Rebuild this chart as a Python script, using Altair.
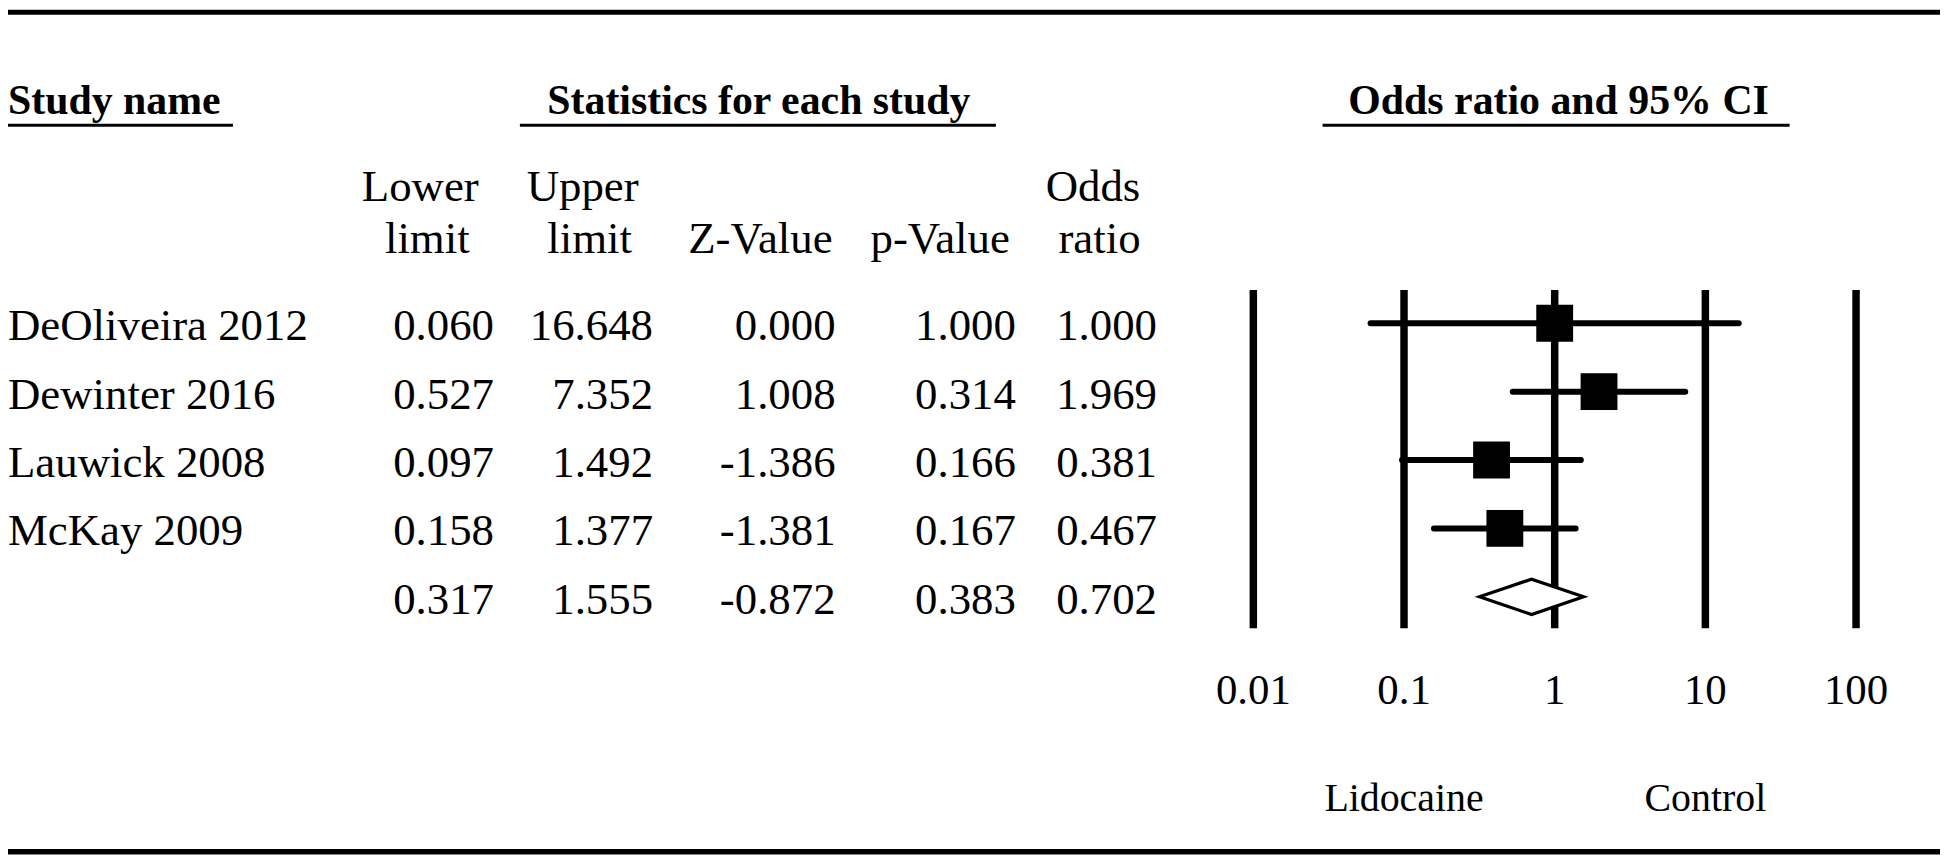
import altair as alt
import pandas as pd

FONT = "Liberation Serif"

# ---- data ----
studies = ["DeOliveira 2012", "Dewinter 2016", "Lauwick 2008", "McKay 2009", ""]
lower_limit = [0.060, 0.527, 0.097, 0.158, 0.317]
upper_limit = [16.648, 7.352, 1.492, 1.377, 1.555]
z_value = [0.000, 1.008, -1.386, -1.381, -0.872]
p_value = [1.000, 0.314, 0.166, 0.167, 0.383]
odds_ratio = [1.000, 1.969, 0.381, 0.467, 0.702]
is_summary = [False, False, False, False, True]

tick_values = [0.01, 0.1, 1, 10, 100]
tick_labels = ["0.01", "0.1", "1", "10", "100"]
favours_labels = ["Lidocaine", "Control"]
favours_at = [0.1, 10]

group_titles = ["Study name", "Statistics for each study", "Odds ratio and 95% CI"]
header_top = ["Lower", "Upper", "", "", "Odds"]
header_bottom = ["limit", "limit", "Z-Value", "p-Value", "ratio"]

# ---- tables ----
df = pd.DataFrame({
    "study": studies,
    "row": list(range(len(studies))),
    "lower": lower_limit,
    "upper": upper_limit,
    "z": z_value,
    "p": p_value,
    "odds": odds_ratio,
    "summary": is_summary,
})
num_cols = ["lower", "upper", "z", "p", "odds"]
for c in num_cols:
    df[c + "_txt"] = df[c].map(lambda v: f"{v:.3f}")

studies_df = df[~df["summary"]]
summary_df = df[df["summary"]]

DIAMOND_HALF = 0.258  # half height of the summary diamond, in row units
s = summary_df.iloc[0]
diamond_df = pd.DataFrame({
    "x": [s["lower"], s["odds"], s["upper"]],
    "y": [s["row"], s["row"] - DIAMOND_HALF, s["row"]],
    "y2": [s["row"], s["row"] + DIAMOND_HALF, s["row"]],
})

ticks_df = pd.DataFrame({"v": tick_values, "label": tick_labels})
fav_df = pd.DataFrame({"v": favours_at, "label": favours_labels})

# ---- scales ----
X_SCALE = alt.Scale(type="log", domain=[0.01, 100], range=[1250.5, 1855.7], nice=False)
Y_SCALE = alt.Scale(domain=[0, 4], range=[314.8, 589.5], nice=False, zero=False)


def xq(field):
    return alt.X(field, type="quantitative", scale=X_SCALE, axis=None)


def yq(field):
    return alt.Y(field, type="quantitative", scale=Y_SCALE, axis=None)


def one():
    return alt.Data(values=[{}])


def label(text, x, y, size=45, bold=False, align="center"):
    return alt.Chart(one()).mark_text(
        text=text, font=FONT, fontSize=size, fontWeight="bold" if bold else "normal",
        align=align, baseline="alphabetic", color="black",
    ).encode(x=alt.value(x), y=alt.value(y))


def hline(x1, x2, y, w):
    return alt.Chart(one()).mark_rule(color="black", strokeWidth=w).encode(
        x=alt.value(x1), x2=alt.value(x2), y=alt.value(y)
    )


layers = []

# frame bars top and bottom
layers.append(hline(0, 1940, 2.5, 5))
layers.append(hline(0, 1940, 845.4, 5.5))

# group titles with underlines
layers.append(label(group_titles[0], 0, 105, 42, True, "left"))
layers.append(hline(0, 226, 116, 3.2))
layers.append(label(group_titles[1], 754, 105, 42, True))
layers.append(hline(514, 992, 116, 3.2))
layers.append(label(group_titles[2], 1557, 105, 42, True))
layers.append(hline(1320, 1789, 116, 3.2))

# column headers
top_x = [414, 577, None, None, 1089.5]
bot_x = [421, 584, 755.5, 936, 1096]
for t, xx in zip(header_top, top_x):
    if t:
        layers.append(label(t, xx, 192))
for t, xx in zip(header_bottom, bot_x):
    layers.append(label(t, xx, 244))

# study names
layers.append(
    alt.Chart(df).mark_text(font=FONT, fontSize=45, align="left", baseline="alphabetic",
                            dy=17, color="black")
    .encode(x=alt.value(0), y=yq("row"), text="study:N")
)

# numeric columns (right aligned)
col_right = [488, 647.7, 831, 1012, 1153.7]
for c, xr in zip(num_cols, col_right):
    layers.append(
        alt.Chart(df).mark_text(font=FONT, fontSize=45, align="right", baseline="alphabetic",
                                dy=17, color="black")
        .encode(x=alt.value(xr), y=yq("row"), text=alt.Text(c + "_txt:N"))
    )

# vertical reference lines at each decade
layers.append(
    alt.Chart(ticks_df).mark_rule(color="black", strokeWidth=7.5)
    .encode(x=xq("v"), y=alt.value(281.3), y2=alt.value(621))
)

# confidence intervals
layers.append(
    alt.Chart(studies_df).mark_rule(color="black", strokeWidth=6, strokeCap="round")
    .encode(x=xq("lower"), x2="upper:Q", y=yq("row"))
)

# point estimates
layers.append(
    alt.Chart(studies_df).mark_square(size=1369, color="black", opacity=1)
    .encode(x=xq("odds"), y=yq("row"))
)

# summary diamond
layers.append(
    alt.Chart(diamond_df).mark_area(fill="white", stroke="black", strokeWidth=3.2,
                                    orient="vertical", fillOpacity=1)
    .encode(x=xq("x"), y=yq("y"), y2="y2:Q")
)

# tick labels
layers.append(
    alt.Chart(ticks_df).mark_text(font=FONT, fontSize=43, baseline="alphabetic", color="black")
    .encode(x=xq("v"), y=alt.value(697), text="label:N")
)

# favours labels
layers.append(
    alt.Chart(fav_df).mark_text(font=FONT, fontSize=40, baseline="alphabetic", color="black")
    .encode(x=xq("v"), y=alt.value(805), text="label:N")
)

chart = alt.layer(*layers).properties(
    width=1940, height=848, padding=0,
    autosize=alt.AutoSizeParams(type="none"),
).configure_view(strokeWidth=0)

chart.save("out.html", embed_options={"renderer": "svg", "actions": False})
